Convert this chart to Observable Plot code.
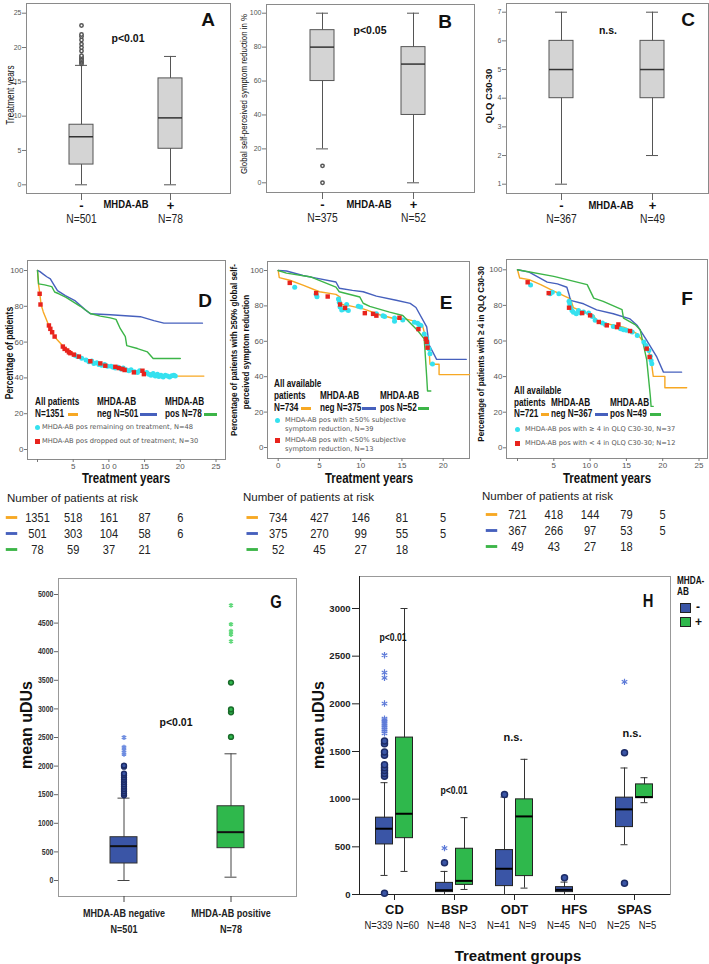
<!DOCTYPE html>
<html><head><meta charset="utf-8">
<script src="https://cdn.jsdelivr.net/npm/d3@7"></script>
<script src="https://cdn.jsdelivr.net/npm/@observablehq/plot@0.6"></script>
<style>
html,body{margin:0;padding:0;background:#fff}
#root{position:relative;width:709px;height:964px;overflow:hidden;background:#fff}
.t{position:absolute;white-space:nowrap;line-height:1}
.sw{position:absolute}
</style></head><body><div id="root"></div>
<script>
// ---------------- DATA ----------------
// Panels A-C: box statistics per MHDA-AB group
const boxA = [{g:"-", n:501, lo:0, q1:2.95, med:7.0, q3:8.75, hi:17.4}, {g:"+", n:78, lo:0, q1:5.25, med:9.75, q3:15.5, hi:18.7}];
const outA = [17.6,17.8,18.0,18.2,18.4,18.6,18.8,19.5,20.0,20.5,21.1,21.6,21.9,23.2];
const boxB = [{g:"-", n:375, lo:20, q1:60, med:80, q3:90, hi:100}, {g:"+", n:52, lo:0, q1:40, med:70, q3:80, hi:100}];
const outB = [10, 0];
const boxC = [{g:"-", n:367, lo:1, q1:4, med:5, q3:6, hi:7}, {g:"+", n:49, lo:2, q1:4, med:5, q3:6, hi:7}];
const ticksA = [0,5,10,15,20,25];
const ticksB = [0,20,40,60,80,100];
const ticksC = [1,2,3,4,5,6,7];

// Panels D-F: Kaplan-Meier curves [years, %]
const D_all = [[0,100],[0.15,92],[0.3,88],[0.5,81],[0.8,77],[1.2,73],[1.6,69],[2.1,65],[2.6,62],[3.4,58.5],[4.0,56.5],[4.6,55],[5.2,53],[6.0,51.5],[7.4,49.5],[8.8,48],[10,47],[11.2,46],[12.5,44.8],[13.5,44],[14.9,43],[16.3,42.5],[17.5,41.5],[19.1,41],[23.3,41]];
const D_neg = [[0,100],[0.3,99.5],[0.8,98],[1.3,96.5],[1.8,95.3],[2.3,92],[2.8,88.8],[3.9,86],[5.3,83],[6.7,78],[7.4,75.8],[10.2,75.3],[14.4,74.2],[16.3,72],[17.7,70.6],[23.1,70.6]];
const D_pos = [[0,100],[0.15,92.5],[1.0,92],[2.0,91],[2.4,88],[3.0,87],[4,85],[5,82.5],[6,80],[7.4,76],[8.8,74.5],[10.2,73.5],[11.0,72.7],[11.6,67.5],[12.3,63],[12.5,58],[14,56.4],[15.4,54.5],[16.2,50.8],[20,50.8]];
const D_cyan = [[5.3,52.5],[5.6,52],[6.2,51],[6.8,50],[7.2,49],[7.6,49.5],[7.9,48],[8.3,48.5],[8.6,47.5],[9.0,47],[9.4,47.5],[9.8,46.5],[10.3,46.5],[10.6,46],[10.9,45.5],[11.3,46],[11.7,45],[12.0,45.5],[12.4,44.5],[12.8,44],[13.1,44.5],[13.6,43.5],[14.0,43],[14.3,44],[15.0,42.5],[15.3,43],[15.6,42],[15.9,41.5],[16.2,42.5],[16.5,41],[16.8,42],[17.0,40.8],[17.3,41.5],[17.6,40.5],[17.9,41.5],[18.2,41],[18.5,40.5],[18.8,41.2],[19.1,41.5],[19.3,41]];
const D_red = [[0.3,87],[0.42,81],[1.6,69.3],[1.8,67.4],[2.05,65.5],[2.4,63.1],[3.55,57.5],[3.8,56.2],[4.15,55.3],[4.4,54.3],[4.6,53.8],[5.1,53],[5.8,51.9],[7.4,49.3],[8.8,48.1],[9.5,46.8],[10.9,46.2],[11.4,45.5],[11.9,45],[12.2,44.4],[13.5,43.1],[14.7,44],[14.9,42.1]];

const E_all = [[0,100],[0.13,96],[1.4,94.5],[3,91.7],[5,88],[7,86.5],[7.5,85],[7.6,81],[8.7,80],[10.3,78.3],[11.1,77],[12.3,75],[13.9,73],[15.5,72.5],[16.9,71],[17.5,68.7],[18,60],[18.3,54.5],[18.4,47],[19.5,47],[19.5,41.2],[23.2,41.2]];
const E_neg = [[0,100],[1,99.7],[3,97.2],[4.6,95.7],[7,93.5],[7.4,90],[9,88.8],[10.3,88],[11.9,85.5],[14.3,83.2],[16,81.4],[16.7,79.1],[18,68.2],[18.3,57.9],[19.2,49.8],[22.8,49.8]];
const E_pos = [[0,100],[1,98.5],[4,96.3],[7,90.6],[7.4,88],[9.9,85],[10.3,81.5],[11.1,79.7],[13.5,76.5],[15.1,74.6],[16.9,66.1],[17.7,61.4],[18,39.8],[18.1,31.9],[18.5,31.9]];
const E_cyan = [[2.0,90.6],[4.6,86.6],[4.7,85.2],[7.3,83.9],[7.4,82],[7.5,79.4],[7.7,77.7],[8.1,78.3],[8.3,80.8],[8.5,77.4],[9.7,79.8],[10.0,79.4],[11.9,75.5],[12.7,74.5],[12.9,74],[14.1,73.2],[14.1,71.3],[15.1,72],[16.5,70.8],[16.9,70.2],[17.1,69.3],[17.3,68.9],[17.7,64.1],[18.0,61.9],[18.1,58.5],[18.3,55.7],[18.4,52.9],[18.7,47.2]];
const E_red = [[1.4,93],[4.6,87.2],[6.0,85.3],[7.5,80.8],[8.1,78.9],[10.5,75.9],[11.5,75.5],[11.9,74.5],[14.7,73.3],[17.0,66.9],[17.9,61.4],[18.0,59.6],[18.1,56.4]];

const F_all = [[0,100],[0.3,95.4],[1.6,94.5],[3.2,91.7],[5,88],[5.9,86.4],[7.3,83.7],[7.7,78.7],[9.1,76.3],[10.5,74.4],[10.9,71.2],[12.8,69.3],[14.6,67.8],[15.5,66.3],[16.5,64],[17.2,60.3],[18.1,53.7],[18.5,46.3],[18.7,40.1],[20.3,40.1],[20.3,33.7],[23.3,33.7]];
const F_neg = [[0,100],[1.6,98.7],[4.1,93.1],[5.5,92.1],[6.8,90.2],[7.1,86.1],[7.3,82.8],[9.1,80.9],[10.9,77.5],[13.2,75.3],[15.5,72.4],[16.5,68.7],[17.8,60.3],[19.2,50.9],[20.1,42.5],[22.6,42.5]];
const F_pos = [[0,100],[5,96.3],[9.6,91.7],[10.5,84.1],[11.8,82.3],[14.4,77.6],[14.6,72.9],[16.2,69.2],[16.9,66.3],[17.8,49.4],[18.3,28.8],[18.4,23.3],[18.7,23.3]];
const F_cyan = [[1.8,91.5],[4.5,86.5],[4.8,87.4],[5.7,86.5],[7.1,82.3],[7.2,80.9],[7.3,79],[7.5,77.2],[7.7,76.2],[8.1,75.3],[8.4,77.2],[8.7,75.7],[9.1,76.3],[9.8,75.7],[10.3,73.8],[10.7,71.6],[11.7,70.1],[12.1,69.3],[13.2,68.2],[14.2,66.9],[14.6,66.3],[15.0,66],[15.8,65],[16.5,63.1],[17.4,59.4],[17.7,57.5],[18.1,54.7],[18.3,51.4],[18.4,49.1],[18.5,47.2]];
const F_red = [[1.4,93],[4.3,86.9],[7.1,78.7],[8.9,75.7],[10.0,74.4],[11.2,70.7],[12.3,68.8],[13.7,67.8],[13.9,69.3],[15.5,65.6],[17.8,55.7],[18.2,51]];

const kmYTicks = [0,20,40,60,80,100];
const kmXTicksDF = [0,5,10,15,20,25];
const kmXTicksE = [0,5,10,15,20];

// Numbers at risk
const riskTimes = [0,5,10,15,20];
const riskD_all = [1351,518,161,87,6], riskD_neg = [501,303,104,58,6], riskD_pos = [78,59,37,21];
const riskE_all = [734,427,146,81,5],  riskE_neg = [375,270,99,55,5],  riskE_pos = [52,45,27,18];
const riskF_all = [721,418,144,79,5],  riskF_neg = [367,266,97,53,5],  riskF_pos = [49,43,27,18];

// Panel G
const gCats = ["neg","pos"];
const gCatLabels = ["MHDA-AB negative","MHDA-AB positive"];
const gN = [501, 78];
const boxG = [{g:"neg", lo:0, q1:297, med:600, q3:757, hi:1440}, {g:"pos", lo:58, q1:565, med:845, q3:1298, hi:2215}];
const gNegCircles = [1490,1520,1560,1600,1640,1680,1720,1760,1800,1840,1870,1990,2010];
const gNegStars = [2210,2270,2330,2500];
const gPosCircles = [2510,2940,2990,3460];
const gPosStars = [4180,4300,4360,4480,4810];
const gTicks = [0,500,1000,1500,2000,2500,3000,3500,4000,4500,5000];

// Panel H
const hGroups = ["CD","BSP","ODT","HFS","SPAS"];
const hNeg = [{g:"CD", n:339, lo:200, q1:525, med:690, q3:806, hi:1173}, {g:"BSP", n:48, lo:0, q1:25, med:45, q3:122, hi:242}, {g:"ODT", n:41, lo:0, q1:88, med:270, q3:466, hi:1022}, {g:"HFS", n:45, lo:0, q1:25, med:49, q3:77, hi:130}, {g:"SPAS", n:25, lo:522, q1:707, med:893, q3:1016, hi:1327}];
const hPos = [{g:"CD", n:60, lo:242, q1:591, med:847, q3:1646, hi:3000}, {g:"BSP", n:3, lo:53, q1:101, med:143, q3:480, hi:806}, {g:"ODT", n:9, lo:67, q1:193, med:819, q3:998, hi:1418}, {g:"HFS", n:0}, {g:"SPAS", n:5, lo:963, q1:1011, med:1022, q3:1155, hi:1225}];
const hNegCircles = {CD:[14,1240,1270,1300,1330,1360,1460,1495,1580,1610], BSP:[333], ODT:[1050], HFS:[175], SPAS:[119,1488]};
const hNegStars = {CD:[1690,1710,1730,1750,1770,1790,1810,1830,1845,2003,2272,2328,2510], BSP:[486], SPAS:[2230]};
const hTicks = [0,500,1000,1500,2000,2500,3000];

// ---------------- STYLE ----------------
const W = 709, H = 964;
const root = document.getElementById("root");
const SANS = '"Liberation Sans",Arial,sans-serif';
const DJ = '"DejaVu Sans",sans-serif';
const ORANGE = "#f7a823", KBLUE = "#4660bd", KGREEN = "#3cb548", CYAN = "#35e1ef", RED = "#e8231c";
const BOXBLUE = "#3a55a6", BOXGREEN = "#2fb84c";
const NK = 0.82; // horizontal compression that imitates the condensed face of the original
const base = {width:W, height:H, style:{background:"transparent", overflow:"visible", fontFamily:SANS, position:"absolute", left:"0px", top:"0px"}};
const m = (l,t,r,b) => ({marginLeft:l, marginTop:t, marginRight:W-r, marginBottom:H-b});
const place = (svg) => { root.appendChild(svg); return svg; };
const flat = (obj) => Object.entries(obj).flatMap(([g,vs]) => vs.map(v => ({g, v})));
const num = d => String(d);
function narrow(svg, sel, k = NK) {
  svg.querySelectorAll(sel).forEach(el => {
    const targets = el.querySelector("tspan") ? el.querySelectorAll("tspan") : [el];
    targets.forEach(t => {
      const L = t.getComputedTextLength();
      if (L > 0) { t.setAttribute("textLength", (L * k).toFixed(2)); t.setAttribute("lengthAdjust", "spacingAndGlyphs"); }
    });
  });
}

function T(txt, x, y, o = {}) {
  const d = document.createElement("div");
  d.className = "t"; d.textContent = txt;
  const a = o.a || "m";
  const tx = o.r ? "-50%" : a === "m" ? "-50%" : a === "e" ? "-100%" : "0";
  let tr = `translate(${tx},-50%)` + (o.r ? " rotate(-90deg)" : "") + (o.n ? ` scaleX(${NK})` : "");
  Object.assign(d.style, {left:x+"px", top:y+"px", fontSize:(o.s||10)+"px", fontFamily:o.f||SANS,
    fontWeight:o.b?"bold":"normal", color:o.c||"#111", transform:tr,
    transformOrigin:(!o.r && a === "s") ? "0 50%" : (!o.r && a === "e") ? "100% 50%" : "50% 50%"});
  root.appendChild(d);
}
function SW(x1, y1, x2, y2, bg, extra = {}) {
  const d = document.createElement("div"); d.className = "sw";
  Object.assign(d.style, {left:x1+"px", top:y1+"px", width:(x2-x1)+"px", height:(y2-y1)+"px", background:bg}, extra);
  root.appendChild(d);
}

// ---------------- PANELS A-C ----------------
function grayBox(boxes, outs, fr, xc, bw, yd, yr, ticks) {
  const step = xc[1] - xc[0], pi = 1 - bw / step;
  return Plot.plot({...base, ...m(...fr),
    x:{type:"band", domain:boxes.map(d => d.g), range:[xc[0]-step/2, xc[1]+step/2], paddingInner:pi, paddingOuter:pi/2},
    y:{domain:yd, range:yr},
    marks:[
      Plot.frame({stroke:"#8a8a8a"}),
      Plot.axisY(ticks, {tickSize:4, tickPadding:1, fontSize:7, fill:"#555", stroke:"#777", label:null}),
      Plot.axisX({tickSize:7, tickPadding:5, lineAnchor:"middle", fontSize:13, fontWeight:"bold", fill:"#111", stroke:"#666", label:null}),
      Plot.text(boxes, {x:"g", text:d => "N=" + d.n, frameAnchor:"bottom", dy:29, fontSize:12.5, fill:"#222"}),
      Plot.ruleX(boxes, {x:"g", y1:"lo", y2:"hi", stroke:"#555"}),
      Plot.tickY(boxes, {x:"g", y:"lo", stroke:"#555", insetLeft:bw/4, insetRight:bw/4}),
      Plot.tickY(boxes, {x:"g", y:"hi", stroke:"#555", insetLeft:bw/4, insetRight:bw/4}),
      Plot.barY(boxes, {x:"g", y1:"q1", y2:"q3", fill:"#d4d4d4", stroke:"#555"}),
      Plot.tickY(boxes, {x:"g", y:"med", stroke:"#333", strokeWidth:1.5}),
      Plot.dot(outs, {x:() => "-", y:d => d, r:1.7, stroke:"#555", fill:"#fff"})
    ]});
}
for (const [b, o, fr, xc, yd, yr, tk] of [
  [boxA, outA, [26,3,230,193], [81,170], [0,25], [184.3,12.7], ticksA],
  [boxB, outB, [266,4,474,192], [322,413], [0,100], [182.3,12.7], ticksB],
  [boxC, [], [506,3,708,193], [561,652], [1,7], [183.7,11.7], ticksC]]) {
  const svg = place(grayBox(b, o, fr, xc, 24, yd, yr, tk));
  narrow(svg, 'g[aria-label="text"] text');
}

T("Treatment years", 10.5, 95, {s:10, n:1, r:1});
T("A", 208, 19, {s:19, b:1});
T("p<0.01", 128, 38, {s:10.5, b:1});
T("Global self-perceived symptom reduction in %", 244, 94, {s:9.6, n:1, r:1});
T("B", 445, 21, {s:19, b:1});
T("p<0.05", 370, 30, {s:10.5, b:1});
T("QLQ C30-30", 489, 96, {s:9.5, b:1, r:1});
T("C", 688, 19, {s:19, b:1});
T("n.s.", 608, 30, {s:10.5, b:1});
T("MHDA-AB", 126, 205, {s:11.5, b:1, n:1});
T("MHDA-AB", 369, 205, {s:11.5, b:1, n:1});
T("MHDA-AB", 611, 206, {s:11.5, b:1, n:1});

// ---------------- PANELS D-F ----------------
const dfFmt = d => d === 0 ? "" : d === 10 ? "10 0" : String(d);
function km(fr, xd, xr, yr, xt, xfmt, lines, cyan, red) {
  return Plot.plot({...base, ...m(...fr),
    x:{domain:xd, range:xr}, y:{domain:[0,100], range:yr},
    marks:[
      Plot.frame({stroke:"#8a8a8a"}),
      Plot.axisY(kmYTicks, {tickSize:3, tickPadding:1, fontSize:8, fill:"#555", stroke:"#777", label:null}),
      Plot.axisX(xt, {tickSize:3, tickPadding:1, fontSize:8, fill:"#555", stroke:"#777", tickFormat:xfmt, label:null}),
      ...lines.map(([data, color]) => Plot.line(data, {x:d => d[0], y:d => d[1], stroke:color, strokeWidth:1.4})),
      Plot.dot(cyan, {x:d => d[0], y:d => d[1], r:2.5, fill:CYAN}),
      Plot.dot(red, {x:d => d[0], y:d => d[1], r:2.5, symbol:"square", fill:RED})
    ]});
}
place(km([27,260,225,459], [0,25], [37,215.5], [449,270], kmXTicksDF, dfFmt, [[D_all,ORANGE],[D_neg,KBLUE],[D_pos,KGREEN]], D_cyan, D_red));
place(km([267,261,469,458], [0,20], [277.7,442.7], [447,270], kmXTicksE, num, [[E_all,ORANGE],[E_neg,KBLUE],[E_pos,KGREEN]], E_cyan, E_red));
place(km([506,259,707,458], [0,25], [517,698.5], [447.3,269.3], kmXTicksDF, dfFmt, [[F_all,ORANGE],[F_neg,KBLUE],[F_pos,KGREEN]], F_cyan, F_red));

// numbers at risk (same x scales as the survival panels)
const dashSym = {draw(c, size) { const r = Math.sqrt(size / Math.PI); c.moveTo(-2.2*r, -0.55*r); c.lineTo(2.2*r, -0.55*r); c.lineTo(2.2*r, 0.55*r); c.lineTo(-2.2*r, 0.55*r); c.closePath(); }};
function riskTable(xd, xr, yr, rows) {
  const colors = [ORANGE, KBLUE, KGREEN];
  const recs = rows.flatMap((vals, i) => vals.map((v, j) => ({t:riskTimes[j], row:i, v})));
  return Plot.plot({...base,
    x:{domain:xd, range:xr, axis:null}, y:{type:"point", domain:[0,1,2], range:yr, padding:0, axis:null},
    marks:[
      Plot.dot(rows, {x:() => riskTimes[0], y:(d, i) => i, dx:-26, symbol:dashSym, r:2.6, fill:(d, i) => colors[i]}),
      Plot.text(recs, {x:"t", y:"row", text:d => String(d.v), fontSize:13.5, fill:"#222"})
    ]});
}
for (const args of [
  [[0,25], [37,215.5], [517,549], [riskD_all, riskD_neg, riskD_pos]],
  [[0,20], [277.7,442.7], [516,549], [riskE_all, riskE_neg, riskE_pos]],
  [[0,25], [517,698.5], [514,546], [riskF_all, riskF_neg, riskF_pos]]]) {
  const svg = place(riskTable(...args));
  narrow(svg, 'g[aria-label="text"] text');
}

T("Number of patients at risk", 7, 499, {s:11.5, a:"s", c:"#222"});
T("Number of patients at risk", 243, 498, {s:11.5, a:"s", c:"#222"});
T("Number of patients at risk", 482, 497, {s:11.5, a:"s", c:"#222"});

// D texts
T("Percentage of patients", 9, 353, {s:10.5, b:1, n:1, r:1});
T("D", 205, 300, {s:19, b:1});
T("Treatment years", 126, 478, {s:14, b:1, n:1});
const LB = {s:10, b:1, n:1, a:"s"};
const LS = {s:6.7, f:DJ, c:"#555", a:"s"};
T("All patients", 35, 402, LB); T("MHDA-AB", 97, 402, LB); T("MHDA-AB", 165, 402, LB);
T("N=1351", 35, 413.5, LB); SW(68,413,78,415.5,ORANGE);
T("neg N=501", 97, 413.5, LB); SW(140,413,157,415.5,KBLUE);
T("pos N=78", 165, 413.5, LB); SW(204,413,217,415.5,KGREEN);
SW(34.5,424.5,39.5,429.5,CYAN,{borderRadius:"50%"}); T("MHDA-AB pos remaining on treatment, N=48", 42, 427, LS);
SW(34.5,438.5,39.5,443.5,RED); T("MHDA-AB pos dropped out of treatment, N=30", 42, 441, LS);

// E texts
T("Percentage of patients with ≥50% global self-", 233.5, 350, {s:9.8, b:1, n:1, r:1});
T("perceived symptom reduction", 246, 352, {s:9.8, b:1, n:1, r:1});
T("E", 446, 302, {s:19, b:1});
T("Treatment years", 369, 478, {s:14, b:1, n:1});
T("All available", 274, 384, LB); T("patients", 274, 396, LB); T("MHDA-AB", 320, 396, LB); T("MHDA-AB", 380, 396, LB);
T("N=734", 274, 408, LB); SW(301,407,311,409.5,ORANGE);
T("neg N=375", 320, 408, LB); SW(362,407,376,409.5,KBLUE);
T("pos N=52", 380, 408, LB); SW(418,407,429,409.5,KGREEN);
SW(274.5,417.5,279.5,422.5,CYAN,{borderRadius:"50%"}); T("MHDA-AB pos with ≥50% subjective", 285, 420, LS); T("symptom reduction, N=39", 285, 429, LS);
SW(274.5,437.5,279.5,442.5,RED); T("MHDA-AB pos with <50% subjective", 285, 440, LS); T("symptom reduction, N=13", 285, 449, LS);

// F texts
T("Percentage of patients with ≥ 4 in QLQ C30-30", 481, 354, {s:9.8, b:1, n:1, r:1});
T("F", 687, 298, {s:19, b:1});
T("Treatment years", 607, 478, {s:14, b:1, n:1});
T("All available", 514, 391, LB); T("patients", 514, 403, LB); T("MHDA-AB", 551, 403, LB); T("MHDA-AB", 610, 403, LB);
T("N=721", 514, 414, LB); SW(541,413,549,415.5,ORANGE);
T("neg N=367", 551, 414, LB); SW(595,413,608,415.5,KBLUE);
T("pos N=49", 610, 414, LB); SW(650,413,661,415.5,KGREEN);
SW(514.5,426.5,519.5,431.5,CYAN,{borderRadius:"50%"}); T("MHDA-AB pos with ≥ 4 in QLQ C30-30, N=37", 525, 429, LS);
SW(514.5,440.5,519.5,445.5,RED); T("MHDA-AB pos with < 4 in QLQ C30-30; N=12", 525, 443, LS);

// ---------------- PANEL G ----------------
{
  const step = 107, bw = 27, pi = 1 - bw / step;
  const svg = place(Plot.plot({...base, ...m(58,578,296,896),
    x:{type:"band", domain:gCats, range:[123-step/2, 230+step/2], paddingInner:pi, paddingOuter:pi/2},
    y:{domain:[0,5000], range:[880,594]},
    color:{domain:gCats, range:[BOXBLUE, BOXGREEN]},
    marks:[
      Plot.frame({stroke:"#999"}),
      Plot.axisY(gTicks, {tickSize:4, tickPadding:1, fontSize:8.5, fontWeight:"bold", fill:"#333", stroke:"#666", tickFormat:num, label:null}),
      Plot.axisX({tickSize:6, tickPadding:3, fontSize:11, fontWeight:"bold", fill:"#222", stroke:"#444", lineHeight:1.45,
        tickFormat:d => gCatLabels[gCats.indexOf(d)] + "\nN=" + gN[gCats.indexOf(d)], label:null}),
      Plot.ruleX(boxG, {x:"g", y1:"lo", y2:"hi", stroke:"#444"}),
      Plot.tickY(boxG, {x:"g", y:"lo", stroke:"#444", insetLeft:7.5, insetRight:7.5}),
      Plot.tickY(boxG, {x:"g", y:"hi", stroke:"#444", insetLeft:7.5, insetRight:7.5}),
      Plot.barY(boxG, {x:"g", y1:"q1", y2:"q3", fill:"g", stroke:"#333"}),
      Plot.tickY(boxG, {x:"g", y:"med", stroke:"#111", strokeWidth:2}),
      Plot.dot(gNegCircles, {x:() => "neg", y:d => d, r:2.4, fill:BOXBLUE, stroke:"#1d2c66"}),
      Plot.dot(gNegStars, {x:() => "neg", y:d => d, r:2.4, symbol:"asterisk", stroke:"#6d8ce0"}),
      Plot.dot(gPosCircles, {x:() => "pos", y:d => d, r:2.4, fill:BOXGREEN, stroke:"#1a6b2b"}),
      Plot.dot(gPosStars, {x:() => "pos", y:d => d, r:2.2, symbol:"asterisk", stroke:"#5fd87a"})
    ]}));
  narrow(svg, "text");
}
T("mean uDUs", 27, 725, {s:16, b:1, r:1});
T("G", 276, 602, {s:18, b:1, n:1});
T("p<0.01", 176, 722, {s:10.5, b:1});

// ---------------- PANEL H ----------------
{
  const negIn = {insetLeft:1.5, insetRight:21.5}, posIn = {insetLeft:21.5, insetRight:1.5};
  const negCap = {insetLeft:6.5, insetRight:26.5}, posCap = {insetLeft:26.5, insetRight:6.5};
  const hp = hPos.filter(d => d.n > 0);
  const boxMarks = (data, ins, cap, dx, fill) => [
    Plot.ruleX(data, {x:"g", y1:"lo", y2:"hi", dx, stroke:"#333"}),
    Plot.tickY(data, {x:"g", y:"lo", stroke:"#333", ...cap}),
    Plot.tickY(data, {x:"g", y:"hi", stroke:"#333", ...cap}),
    Plot.barY(data, {x:"g", y1:"q1", y2:"q3", fill, stroke:"#222", ...ins}),
    Plot.tickY(data, {x:"g", y:"med", stroke:"#000", strokeWidth:2, ...ins})
  ];
  const svg = place(Plot.plot({...base, ...m(359,576,670,894),
    x:{type:"band", domain:hGroups, range:[364,664], paddingInner:1/3, paddingOuter:1/6},
    y:{domain:[0,3000], range:[894,608]},
    marks:[
      Plot.frame({stroke:"#999"}),
      Plot.frame({anchor:"left", stroke:"#222"}),
      Plot.ruleY([0], {stroke:"#222"}),
      Plot.axisY(hTicks, {tickSize:7, tickPadding:2, fontSize:9.5, fontWeight:"bold", fill:"#222", stroke:"#222", tickFormat:num, label:null}),
      Plot.axisX({tickSize:6, tickPadding:4.5, fontSize:13, fontWeight:"bold", fill:"#111", stroke:"#222", label:null}),
      ...boxMarks(hNeg, negIn, negCap, -10, BOXBLUE),
      ...boxMarks(hp, posIn, posCap, 10, BOXGREEN),
      Plot.dot(flat(hNegCircles), {x:"g", y:"v", dx:-10, r:3, fill:BOXBLUE, stroke:"#1d2c66"}),
      Plot.dot(flat(hNegStars), {x:"g", y:"v", dx:-10, r:3, symbol:"asterisk", stroke:"#5d7ad8", strokeWidth:1.2}),
      Plot.text(hNeg, {x:"g", text:d => "N=" + d.n, frameAnchor:"bottom", dy:34, dx:-16, fontSize:11.5, fill:"#222"}),
      Plot.text(hPos, {x:"g", text:d => "N=" + d.n, frameAnchor:"bottom", dy:34, dx:13, fontSize:11.5, fill:"#222"})
    ]}));
  narrow(svg, 'g[aria-label="text"] text');
}
T("mean uDUs", 319, 725, {s:16, b:1, r:1});
T("H", 648, 601, {s:18, b:1, n:1});
T("p<0.01", 393, 637, {s:10.5, b:1, n:1});
T("p<0.01", 454, 790, {s:10.5, b:1, n:1});
T("n.s.", 513, 737, {s:11, b:1});
T("n.s.", 632, 733, {s:11, b:1});
T("MHDA-", 677, 581, {s:10, b:1, n:1, a:"s"});
T("AB", 677, 592, {s:10, b:1, n:1, a:"s"});
SW(680,603,691,613,BOXBLUE,{boxSizing:"border-box", border:"1px solid #222"});
SW(680,617,691,627,BOXGREEN,{boxSizing:"border-box", border:"1px solid #222"});
T("-", 696, 607, {s:12, b:1, a:"s"});
T("+", 695, 622, {s:12, b:1, a:"s"});
T("Treatment groups", 518, 955, {s:15, b:1});
</script></body></html>
